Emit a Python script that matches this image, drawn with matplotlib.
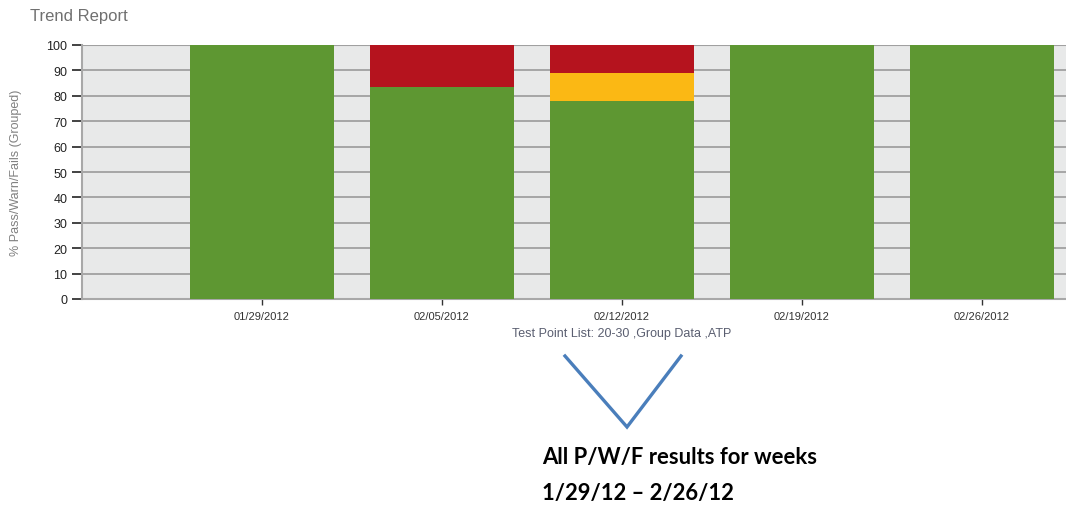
import matplotlib
matplotlib.use("Agg")
from matplotlib import pyplot as plt
from matplotlib.lines import Line2D

weeks = ["01/29/2012", "02/05/2012", "02/12/2012", "02/19/2012", "02/26/2012"]
passPct = [100, 83.3, 77.8, 100, 100]
warnPct = [0, 0, 11.1, 0, 0]
failPct = [0, 16.7, 11.1, 0, 0]

GREEN = "#5E9732"
YELLOW = "#FBB814"
RED = "#B5131E"

plt.rcParams['font.family'] = ['Liberation Sans', 'DejaVu Sans']

fig = plt.figure(figsize=(10.66, 5.06), dpi=100)
ax = fig.add_axes([82 / 1066, 206 / 506, 1 - 82 / 1066, 254 / 506])
ax.set_facecolor("#E8E9E9")

positions = list(range(1, len(weeks) + 1))
ax.bar(positions, passPct, width=0.8, color=GREEN, zorder=3)
warnBottom = passPct
ax.bar(positions, warnPct, width=0.8, bottom=warnBottom, color=YELLOW, zorder=3)
failBottom = [p + w for p, w in zip(passPct, warnPct)]
ax.bar(positions, failPct, width=0.8, bottom=failBottom, color=RED, zorder=3)

ax.set_xlim(0, 984 / 180)
ax.set_ylim(0, 100)
ax.set_yticks(range(0, 101, 10))
ax.set_xticks(positions)
ax.set_xticklabels(weeks, fontsize=8, color="#222222")
ax.tick_params(axis='y', labelsize=9, colors="#222222", length=7, width=1.2)
ax.tick_params(axis='x', length=4, width=1, colors="#333333", pad=5)
ax.grid(axis='y', color="#9A9A9A", linewidth=1.2, zorder=1)

for side in ["top", "right"]:
    ax.spines[side].set_visible(False)
ax.spines["left"].set_color("#A8A8A8")
ax.spines["left"].set_linewidth(1.5)
ax.spines["bottom"].set_color("#A8A8A8")
ax.spines["bottom"].set_linewidth(1.5)
ax.axhline(100, color="#A0A0A0", linewidth=1.5, zorder=2)

ax.set_ylabel("% Pass/Warn/Fails (Grouped)", fontsize=9, color="#808080")
ax.yaxis.set_label_coords(-0.061, 0.5)
ax.text(3, -11, "Test Point List: 20-30 ,Group Data ,ATP", fontsize=9,
        color="#5A5E70", ha="center", va="top", clip_on=False)

fig.text(30 / 1066, 1 - 17 / 506, "Trend Report", fontsize=12, color="#707070",
         ha="left", va="center")

# V-shaped pointer under the axis caption
vx = [565 / 1066, 627 / 1066, 681 / 1066]
vy = [1 - 357 / 506, 1 - 428 / 506, 1 - 357 / 506]
fig.add_artist(Line2D(vx, vy, color="#4A7EBB", linewidth=2.4,
                      solid_joinstyle="miter", transform=fig.transFigure))

fig.text(542 / 1066, 1 - 458 / 506, "All P/W/F results for weeks", fontsize=15.8,
         fontweight="bold", family=["Lato", "DejaVu Sans"], ha="left", va="center")
fig.text(542 / 1066, 1 - 494 / 506, "1/29/12 \u2013 2/26/12", fontsize=15.8,
         fontweight="bold", family=["Lato", "DejaVu Sans"], ha="left", va="center")

fig.savefig("out.png", dpi=100)
